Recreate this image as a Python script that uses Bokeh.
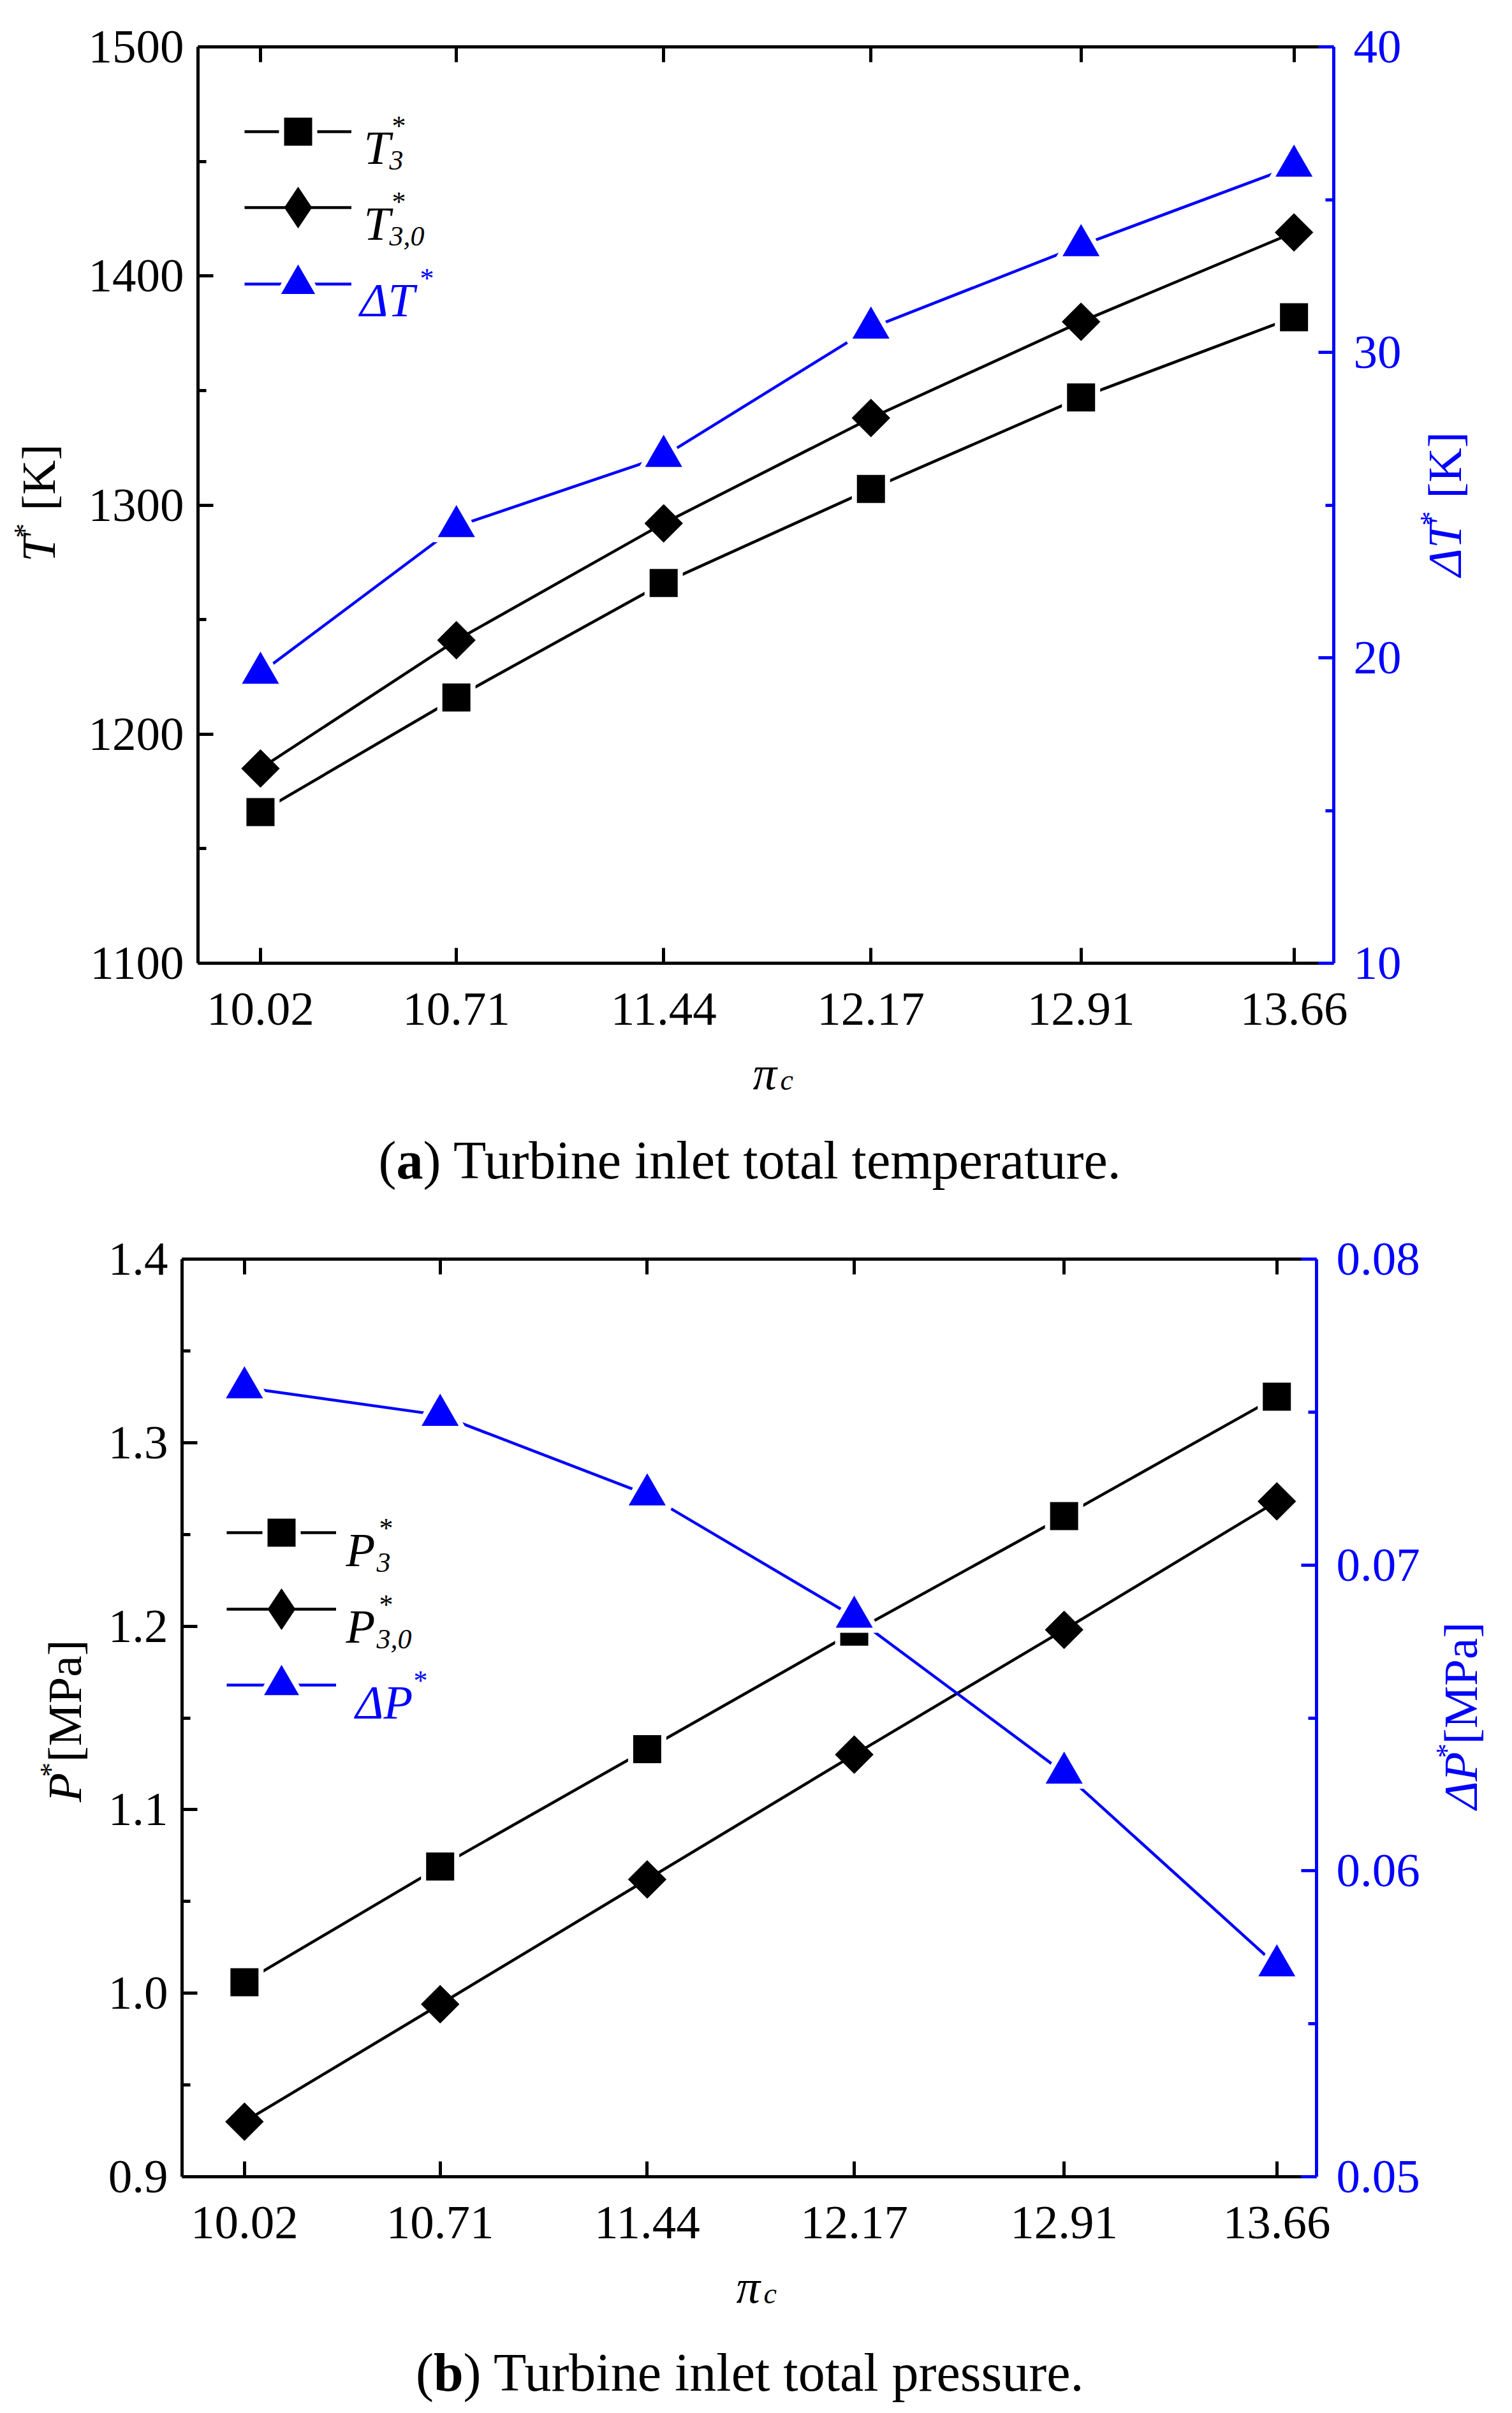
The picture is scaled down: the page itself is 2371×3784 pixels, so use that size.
import math
from bokeh.plotting import figure
from bokeh.models import Range1d, LinearAxis, FixedTicker, Label, Legend, LegendItem
from bokeh.layouts import column, row
from bokeh.embed import file_html
from bokeh.resources import INLINE
from bokeh.core.properties import value

# ---------------- data ----------------
pi_c = [10.02, 10.71, 11.44, 12.17, 12.91, 13.66]
pi_c_labels = ["10.02", "10.71", "11.44", "12.17", "12.91", "13.66"]

T3 = [1166, 1216, 1266, 1307, 1347, 1382]
T30 = [1185, 1241, 1292, 1338, 1380, 1419]
dT = [19.5, 24.3, 26.6, 30.8, 33.5, 36.1]

P3 = [1.006, 1.069, 1.133, 1.197, 1.260, 1.325]
P30 = [0.930, 0.994, 1.062, 1.130, 1.198, 1.268]
dP = [0.0758, 0.0749, 0.0723, 0.0683, 0.0632, 0.0569]

T_ticks = [1100, 1200, 1300, 1400, 1500]
T_tick_labels = ["1100", "1200", "1300", "1400", "1500"]
T_minor = [1150, 1250, 1350, 1450]
dT_ticks = [10, 20, 30, 40]
dT_tick_labels = ["10", "20", "30", "40"]
dT_minor = [15, 25, 35]

P_ticks = [0.9, 1.0, 1.1, 1.2, 1.3, 1.4]
P_tick_labels = ["0.9", "1.0", "1.1", "1.2", "1.3", "1.4"]
P_minor = [0.95, 1.05, 1.15, 1.25, 1.35]
dP_ticks = [0.05, 0.06, 0.07, 0.08]
dP_tick_labels = ["0.05", "0.06", "0.07", "0.08"]
dP_minor = [0.055, 0.065, 0.075]

# ---------------- style ----------------
BLUE = "#0000FF"
BLACK = "#000000"
FONT = "Liberation Serif"
TICK_FS = "75px"
A = math.pi / 2
ASC = 0.891          # ascent of Liberation Serif, em units
CAP = 84             # caption font size
VSHIFT = 36          # empirical correction for rotated text start


def style_axis(ax, color, ticks, labels, minor, show_labels=True, standoff=27):
    ax.ticker = FixedTicker(ticks=ticks, minor_ticks=minor)
    if show_labels:
        ax.major_label_overrides = {t: s for t, s in zip(ticks, labels)}
        ax.major_label_text_font_size = TICK_FS
        ax.major_label_text_color = color
    else:
        ax.major_label_text_font_size = "1px"
        ax.major_label_text_color = None
    ax.major_label_text_font = FONT
    ax.major_label_standoff = standoff
    ax.axis_line_color = color
    ax.axis_line_width = 5
    ax.major_tick_line_color = color
    ax.major_tick_line_width = 5
    ax.minor_tick_line_color = color
    ax.minor_tick_line_width = 5
    ax.major_tick_in = 24
    ax.major_tick_out = 0
    ax.minor_tick_in = 13
    ax.minor_tick_out = 0
    ax.axis_label = None


def lab(p, L, B, X, Y, text, size, color=BLACK, style="normal"):
    """Label inside a chart frame; X, Y are page positions (baseline start)."""
    p.add_layout(Label(x=X - L, y=B - Y, x_units="screen", y_units="screen",
                       text=text, text_font=FONT, text_font_size=f"{size}px",
                       text_font_style=style, text_color=color,
                       text_align="left", text_baseline="alphabetic"))


def text_fig(ox, oy, w, h):
    f = figure(width=w, height=h, x_range=Range1d(0, w), y_range=Range1d(0, h),
               x_axis_type=None, y_axis_type=None, min_border=0,
               output_backend="svg", toolbar_location=None)
    f.xgrid.visible = False
    f.ygrid.visible = False
    f.outline_line_color = None
    f.background_fill_color = "white"
    f.border_fill_color = "white"
    f._o = (ox, oy, h)
    return f


def tlab(f, X, Y, text, size, color=BLACK, style="normal"):
    """Horizontal text, X, Y = page position of the baseline start."""
    ox, oy, h = f._o
    f.add_layout(Label(x=X - ox, y=(oy + h) - Y, text=text, text_font=FONT,
                       text_font_size=f"{size}px", text_font_style=style,
                       text_color=color, text_align="left",
                       text_baseline="alphabetic"))


def vlab(f, Xb, Y, text, size, color=BLACK, style="normal"):
    """Text read bottom-to-top; Xb = page x of its baseline, Y = page y where it starts."""
    ox, oy, h = f._o
    X = Xb - ASC * size
    Y = Y + VSHIFT
    f.add_layout(Label(x=X - ox, y=(oy + h) - Y, text=text, text_font=FONT,
                       text_font_size=f"{size}px", text_font_style=style,
                       text_color=color, text_align="left", text_baseline="top",
                       angle=A))


def leg(p, L, B, renderers, x0, rc, gw, H):
    item = LegendItem(label=value(""), renderers=renderers)
    lg = Legend(items=[item], location=(x0 - L, B - (rc + H / 2.0)),
                padding=0, margin=0, spacing=0, glyph_width=gw, glyph_height=int(H),
                label_height=int(H), label_standoff=0, label_text_font_size="1px",
                label_text_color=None,
                background_fill_alpha=0, border_line_color=None)
    p.add_layout(lg)


def make_chart(ox, oy, w, h, L, T, R, B, yr, yr2, ticks, tlabels, tminor,
               ticks2, tlabels2, tminor2, s1, s2, s3):
    fw, fh = R - L, B - T
    mbl = L - ox
    mbt = T - oy
    p = figure(frame_width=fw, frame_height=fh,
               min_border_left=mbl, min_border_right=w - mbl - fw,
               min_border_top=mbt, min_border_bottom=h - mbt - fh,
               x_range=Range1d(9.8, 13.8), y_range=Range1d(*yr),
               output_backend="svg", toolbar_location=None)
    p.extra_y_ranges = {"r": Range1d(*yr2)}
    p.xgrid.visible = False
    p.ygrid.visible = False
    p.outline_line_color = None
    p.background_fill_color = "white"
    p.border_fill_color = "white"

    style_axis(p.xaxis[0], BLACK, pi_c, pi_c_labels, [], True, 47)
    style_axis(p.yaxis[0], BLACK, ticks, tlabels, tminor, True, 22)
    top = LinearAxis()
    style_axis(top, BLACK, pi_c, pi_c_labels, [], False, 0)
    p.add_layout(top, "above")
    right = LinearAxis(y_range_name="r")
    style_axis(right, BLUE, ticks2, tlabels2, tminor2, True, 31)
    p.add_layout(right, "right")

    l1 = p.line(pi_c, s1, line_color=BLACK, line_width=4.5)
    l2 = p.line(pi_c, s2, line_color=BLACK, line_width=4.5)
    l3 = p.line(pi_c, s3, line_color=BLUE, line_width=4.5, y_range_name="r")
    m1 = p.scatter(pi_c, s1, marker="square", size=52, fill_color=BLACK,
                   line_color="white", line_width=8)
    m2 = p.scatter(pi_c, s2, marker="square", size=42, angle=math.pi / 4,
                   fill_color=BLACK, line_color=BLACK, line_width=1)
    m2_key = p.scatter(pi_c, s2, marker="diamond", size=64, fill_color=BLACK,
                       line_color=BLACK, line_width=1, visible=False)
    m3 = p.scatter(pi_c, s3, marker="triangle", size=72, fill_color=BLUE,
                   line_color="white", line_width=8, y_range_name="r")
    return p, (l1, m1), (l2, m2_key), (l3, m3)


# ================= panel (a) =================
L1, T1, R1, B1 = 318, 81, 2099, 1518
p1, g1, g2, g3 = make_chart(120, 8, 2095, 1642, L1, T1, R1, B1, (1100, 1500), (10, 40),
                            T_ticks, T_tick_labels, T_minor,
                            dT_ticks, dT_tick_labels, dT_minor, T3, T30, dT)
leg(p1, L1, B1, list(g1), 391, 214, 168, 130)
leg(p1, L1, B1, list(g2), 391, 333, 168, 160)
leg(p1, L1, B1, list(g3), 391, 453, 168, 180)
lab(p1, L1, B1, 578, 239, "T", 75, style="italic")
lab(p1, L1, B1, 622, 205, "*", 44)
lab(p1, L1, B1, 618, 259, "3", 44, style="italic")
lab(p1, L1, B1, 578, 358, "T", 75, style="italic")
lab(p1, L1, B1, 622, 324, "*", 44)
lab(p1, L1, B1, 618, 378, "3,0", 44, style="italic")
lab(p1, L1, B1, 572, 478, "\u0394T", 75, color=BLUE, style="italic")
lab(p1, L1, B1, 666, 444, "*", 44, color=BLUE)

fL1 = text_fig(8, 8, 112, 1642)
vlab(fL1, 93, 895, "T", 75, style="italic")
vlab(fL1, 61, 852, "*", 46)
vlab(fL1, 93, 803, "[K]", 75)

fR1 = text_fig(2215, 8, 148, 1642)
vlab(fR1, 2298, 921, "\u0394T", 75, color=BLUE, style="italic")
vlab(fR1, 2266, 830, "*", 46, color=BLUE)
vlab(fR1, 2298, 781, "[K]", 75, color=BLUE)

fB1 = text_fig(8, 1650, 2355, 250)
tlab(fB1, 1188, 1690, "\u03c0", 75, style="italic")
tlab(fB1, 1231, 1701, "c", 46, style="italic")
x0 = 1185.5 - 13.914 * CAP / 2
tlab(fB1, x0, 1827, "(", CAP)
tlab(fB1, x0 + 0.333 * CAP, 1827, "a", CAP, style="bold")
tlab(fB1, x0 + 0.833 * CAP, 1827, ") Turbine inlet total temperature.", CAP)

# ================= panel (b) =================
L2, T2, R2, B2 = 293, 1982, 2072, 3421
p2, h1, h2, h3 = make_chart(154, 1900, 2096, 1653, L2, T2, R2, B2, (0.9, 1.4), (0.05, 0.08),
                            P_ticks, P_tick_labels, P_minor,
                            dP_ticks, dP_tick_labels, dP_minor, P3, P30, dP)
leg(p2, L2, B2, list(h1), 363, 2411, 172, 130)
leg(p2, L2, B2, list(h2), 363, 2531, 172, 160)
leg(p2, L2, B2, list(h3), 363, 2650, 172, 180)
lab(p2, L2, B2, 550, 2438, "P", 75, style="italic")
lab(p2, L2, B2, 602, 2404, "*", 44)
lab(p2, L2, B2, 598, 2458, "3", 44, style="italic")
lab(p2, L2, B2, 550, 2558, "P", 75, style="italic")
lab(p2, L2, B2, 602, 2524, "*", 44)
lab(p2, L2, B2, 598, 2578, "3,0", 44, style="italic")
lab(p2, L2, B2, 565, 2677, "\u0394P", 75, color=BLUE, style="italic")
lab(p2, L2, B2, 656, 2643, "*", 44, color=BLUE)

fL2 = text_fig(8, 1900, 146, 1653)
vlab(fL2, 134, 2842, "P", 75, style="italic")
vlab(fL2, 102, 2797, "*", 46)
vlab(fL2, 134, 2770, " [MPa]", 75)

fR2 = text_fig(2250, 1900, 113, 1653)
vlab(fR2, 2323, 2855, "\u0394P", 75, color=BLUE, style="italic")
vlab(fR2, 2291, 2763, "*", 46, color=BLUE)
vlab(fR2, 2323, 2738, "[MPa]", 75, color=BLUE)

fB2 = text_fig(8, 3553, 2355, 223)
tlab(fB2, 1162, 3593, "\u03c0", 75, style="italic")
tlab(fB2, 1205, 3604, "c", 46, style="italic")
x0 = 1185.5 - 12.526 * CAP / 2
tlab(fB2, x0, 3728, "(", CAP)
tlab(fB2, x0 + 0.333 * CAP, 3728, "b", CAP, style="bold")
tlab(fB2, x0 + 0.889 * CAP, 3728, ") Turbine inlet total pressure.", CAP)

layout = column(row(fL1, p1, fR1, spacing=0), fB1,
                row(fL2, p2, fR2, spacing=0), fB2, spacing=0)
open("out.html", "w").write(file_html(layout, INLINE))
